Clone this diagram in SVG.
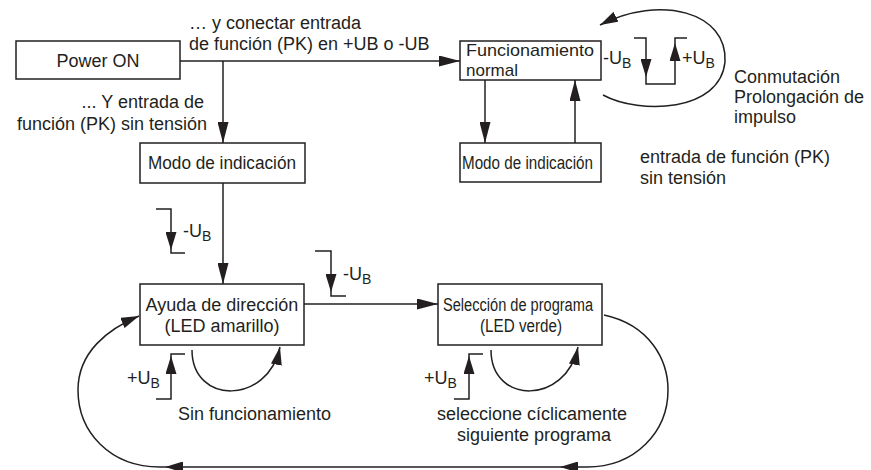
<svg xmlns="http://www.w3.org/2000/svg" width="871" height="470" viewBox="0 0 871 470">
<style>
.box{fill:#fff;stroke:#231f20;stroke-width:1.5}
.ln{fill:none;stroke:#231f20;stroke-width:1.5}
text{font-family:"Liberation Sans",Arial,Helvetica,sans-serif;font-size:18px;fill:#231f20}
.sub{font-size:14px}
.sm{font-size:17px}
.mid{text-anchor:middle}
.end{text-anchor:end}
</style>
<defs>
<marker id="ah" viewBox="0 0 21 11" refX="21" refY="5.5" markerWidth="21" markerHeight="11" markerUnits="userSpaceOnUse" orient="auto"><path d="M0,0 L21,5.5 L0,11 z" fill="#231f20"/></marker>
<marker id="as" viewBox="0 0 18 11" refX="18" refY="5.5" markerWidth="18" markerHeight="11" markerUnits="userSpaceOnUse" orient="auto"><path d="M0,0 L18,5.5 L0,11 z" fill="#231f20"/></marker>
</defs>

<g id="connectors">
<path class="ln" d="M180 61 H460" marker-end="url(#ah)"/>
<path class="ln" d="M223 61 V143" marker-end="url(#ah)"/>
<path class="ln" d="M223 183 V284" marker-end="url(#ah)"/>
<path class="ln" d="M485 80 V143" marker-end="url(#ah)"/>
<path class="ln" d="M575 143 V80" marker-end="url(#ah)"/>
<path class="ln" d="M304 304 H438" marker-end="url(#ah)"/>
<!-- self loops -->
<path class="ln" d="M192 350 C192 405 268 405 280 347" marker-end="url(#as)"/>
<path class="ln" d="M491 350 C491 405 566 405 578 347" marker-end="url(#as)"/>
<!-- big loop -->
<path class="ln" d="M604 315 C650 325 668 360 668 390 C668 432 635 467 587 467 H560" marker-end="url(#as)"/>
<path class="ln" d="M560 467 H165" marker-end="url(#as)"/>
<path class="ln" d="M165 467 H160 C110 467 78 432 78 390 C78 352 108 329 139 316" marker-end="url(#as)"/>
<!-- top-right loop -->
<path class="ln" d="M603 95 C640 115 720 112 725 62 C728 12 660 -6 600 25" marker-end="url(#as)"/>
<!-- switch symbols -->
<path class="ln" d="M634 38 H646 V77" marker-end="url(#as)"/>
<path class="ln" d="M646 77 V84 H675 V43" marker-end="url(#as)"/>
<path class="ln" d="M675 43 V38 H687"/>
<path class="ln" d="M156 209 H171 V250" marker-end="url(#as)"/>
<path class="ln" d="M171 250 V253 H185"/>
<path class="ln" d="M315 251 H331 V292" marker-end="url(#as)"/>
<path class="ln" d="M331 292 V296 H346"/>
<path class="ln" d="M156 399 H171 V356" marker-end="url(#as)"/>
<path class="ln" d="M171 356 V354 H185"/>
<path class="ln" d="M454 399 H469 V356" marker-end="url(#as)"/>
<path class="ln" d="M469 356 V354 H483"/>
</g>

<g id="power-on">
<rect class="box" x="16" y="41" width="164" height="38"/>
<text class="mid" x="98" y="67">Power ON</text>
</g>
<g id="modo-indicacion-1">
<rect class="box" x="140" y="143" width="165" height="40"/>
<text x="148" y="169" textLength="148" lengthAdjust="spacingAndGlyphs">Modo de indicación</text>
</g>
<g id="funcionamiento-normal">
<rect class="box" x="460" y="41" width="141" height="39"/>
<text class="sm" x="466" y="56" textLength="128" lengthAdjust="spacingAndGlyphs">Funcionamiento</text>
<text class="sm" x="466" y="76">normal</text>
</g>
<g id="modo-indicacion-2">
<rect class="box" x="460" y="143" width="141" height="39"/>
<text x="462" y="169" textLength="131" lengthAdjust="spacingAndGlyphs">Modo de indicación</text>
</g>
<g id="ayuda-direccion">
<rect class="box" x="140" y="284" width="164" height="61"/>
<text class="mid" x="222" y="311">Ayuda de dirección</text>
<text class="mid" x="222" y="332">(LED amarillo)</text>
</g>
<g id="seleccion-programa">
<rect class="box" x="438" y="284" width="164" height="61"/>
<text x="443" y="311" textLength="150" lengthAdjust="spacingAndGlyphs">Selección de programa</text>
<text x="480" y="332" textLength="82" lengthAdjust="spacingAndGlyphs">(LED verde)</text>
</g>

<g id="labels">
<text x="189" y="29">… y conectar entrada</text>
<text x="189" y="50">de función (PK) en +UB o -UB</text>
<text class="end" x="204" y="108">... Y entrada de</text>
<text class="end" x="207" y="130">función (PK) sin tensión</text>
<text x="734" y="83">Conmutación</text>
<text x="734" y="103">Prolongación de</text>
<text x="734" y="123">impulso</text>
<text x="640" y="163">entrada de función (PK)</text>
<text x="640" y="184">sin tensión</text>
<text x="603" y="64">-U<tspan class="sub" dy="4">B</tspan></text>
<text x="682" y="64">+U<tspan class="sub" dy="4">B</tspan></text>
<text x="183" y="237">-U<tspan class="sub" dy="4">B</tspan></text>
<text x="343" y="280">-U<tspan class="sub" dy="4">B</tspan></text>
<text x="127" y="384">+U<tspan class="sub" dy="4">B</tspan></text>
<text x="424" y="384">+U<tspan class="sub" dy="4">B</tspan></text>
<text x="178" y="420">Sin funcionamiento</text>
<text class="mid" x="532" y="420">seleccione cíclicamente</text>
<text class="mid" x="534" y="441">siguiente programa</text>
</g>
</svg>
